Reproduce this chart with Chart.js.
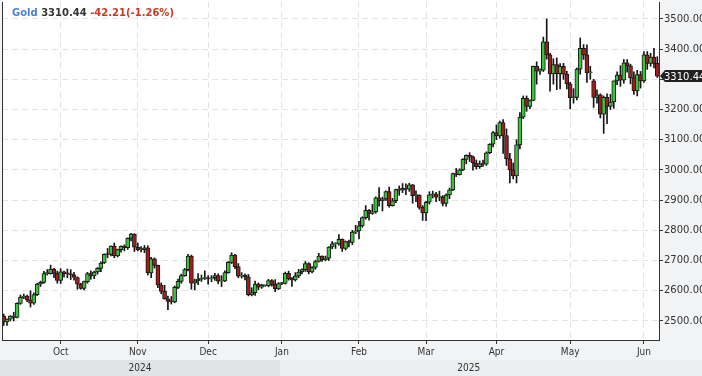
<!DOCTYPE html>
<html>
<head>
<meta charset="utf-8">
<script src="https://cdn.jsdelivr.net/npm/chart.js@4.4.1/dist/chart.umd.min.js"></script>
<style>
html, body { margin: 0; padding: 0; background: #f2f3f5; }
#wrap { position: relative; width: 702px; height: 376px; }
#title { position: absolute; left: 12px; top: 7px; font: bold 10px 'DejaVu Sans', sans-serif; line-height: 12px; color: #333; white-space: pre; }
</style>
</head>
<body>
<div id="wrap">
  <canvas id="myChart" width="702" height="376"></canvas>
  <div id="title"><span style="color:#4c7fd8">Gold</span> <span id="last"></span> <span id="chg" style="color:#c23b22"></span></div>
</div>
<script>
// trading days run Sep 6 2024 .. Jun 6 2025 (every weekday)
const firstDay = '2024-09-06';
const lastDay = '2025-06-06';
const monthNames = ['Jan','Feb','Mar','Apr','May','Jun','Jul','Aug','Sep','Oct','Nov','Dec'];
const years = ['2024', '2025'];
const yTicks = [2500, 2600, 2700, 2800, 2900, 3000, 3100, 3200, 3300, 3400, 3500];

// Sep | Oct | Nov | Dec | Jan | Feb | Mar | Apr | May | Jun
const opens = [
  2516,2497,2506,2516,2512,2558,2578,2582,2570,2559,2587,2622,2628,2657,2657,2672,2658,
  2634,2663,2657,2656,2653,2644,2622,2608,2630,2657,2649,2662,2674,2692,2721,2720,2748,2715,2736,2747,2743,2774,2788,
  2744,2736,2736,2742,2659,2706,2684,2619,2598,2573,2565,2563,2611,2631,2650,2670,2715,2625,2633,2638,2640,
  2643,2639,2643,2650,2632,2633,2660,2694,2718,2680,2648,2652,2646,2586,2594,2622,2612,2617,2617,2634,2621,2606,
  2624,2624,2658,2640,2636,2649,2662,2670,2690,2662,2677,2697,2715,2703,2708,2745,2755,2755,2770,2740,2763,2760,2794,
  2798,2815,2842,2866,2856,2861,2908,2898,2904,2928,2882,2898,2935,2933,2939,2936,2951,2915,2916,2876,
  2858,2893,2918,2920,2910,2910,2889,2917,2934,2988,2984,3000,3035,3048,3043,3023,3011,3020,3019,3057,3085,
  3124,3113,3157,3114,3037,3000,2980,3083,3175,3237,3210,3230,3343,3327,3330,3424,3381,3318,3349,3319,3343,3317,
  3285,3239,3240,3334,3403,3381,3321,3295,3240,3249,3185,3240,3210,3225,3295,3314,3297,3355,3345,3305,3262,3316,
  3295,3381,3353,3374,3352.65
];
const highs = [
  2523,2507,2518,2529,2560,2586,2589,2586,2600,2593,2625,2632,2664,2670,2685,2674,2665,
  2673,2665,2672,2670,2661,2646,2625,2632,2661,2666,2665,2677,2696,2722,2740,2749,2758,2738,2749,2752,2775,2790,2789,
  2758,2746,2750,2749,2711,2709,2685,2626,2618,2582,2581,2616,2639,2655,2674,2721,2718,2639,2657,2652,2666,
  2650,2650,2658,2656,2650,2666,2697,2726,2721,2690,2660,2656,2654,2610,2632,2626,2622,2618,2638,2637,2637,2627,
  2628,2662,2665,2644,2660,2671,2673,2697,2693,2680,2701,2724,2716,2715,2746,2763,2759,2786,2772,2765,2768,2800,2817,
  2830,2845,2882,2869,2886,2911,2942,2910,2931,2943,2906,2937,2947,2955,2954,2956,2952,2931,2918,2882,
  2896,2928,2930,2926,2930,2915,2921,2940,2990,3005,3004,3038,3050,3057,3047,3033,3030,3033,3060,3087,3128,
  3149,3162,3167,3136,3055,3023,3100,3190,3245,3245,3232,3344,3358,3335,3440,3500,3386,3368,3371,3352,3353,3327,
  3290,3269,3337,3437,3415,3414,3343,3300,3265,3252,3245,3252,3250,3295,3325,3345,3366,3365,3350,3325,3330,3326,
  3392,3392,3386,3403,3375
];
const lows = [
  2485,2485,2500,2500,2510,2555,2574,2564,2546,2555,2584,2614,2624,2652,2655,2643,2625,
  2624,2645,2643,2637,2635,2605,2605,2603,2625,2638,2640,2655,2663,2690,2709,2715,2709,2712,2728,2732,2737,2765,2730,
  2732,2729,2726,2652,2643,2675,2610,2590,2572,2537,2556,2560,2607,2625,2648,2666,2605,2603,2620,2631,2637,
  2622,2630,2634,2623,2614,2630,2658,2690,2673,2643,2642,2636,2583,2583,2585,2603,2608,2614,2613,2615,2597,2604,
  2620,2622,2635,2614,2632,2643,2656,2664,2656,2659,2671,2695,2697,2699,2700,2739,2740,2751,2730,2735,2745,2753,2789,
  2772,2810,2837,2834,2853,2857,2880,2864,2899,2877,2880,2892,2916,2925,2918,2929,2890,2895,2870,2833,
  2832,2887,2907,2895,2898,2881,2880,2905,2931,2978,2983,2998,3020,3028,2999,3003,3005,3012,3015,3054,3076,
  3100,3105,3055,3015,2957,2970,2957,3070,3170,3194,3203,3229,3284,3316,3326,3367,3261,3284,3266,3268,3300,3268,
  3202,3221,3232,3317,3366,3290,3300,3207,3221,3172,3121,3153,3200,3204,3282,3277,3287,3324,3285,3250,3245,3271,
  3290,3333,3343,3338,3306
];
const closes = [
  2497,2506,2516,2512,2558,2578,2582,2570,2559,2587,2622,2628,2657,2657,2672,2658,2634,
  2663,2657,2656,2653,2644,2622,2608,2630,2657,2649,2662,2674,2692,2721,2720,2748,2715,2736,2747,2743,2774,2788,2744,
  2736,2736,2742,2659,2706,2684,2619,2598,2573,2565,2563,2611,2631,2650,2670,2715,2625,2633,2638,2640,2643,
  2639,2643,2650,2632,2633,2660,2694,2718,2680,2648,2652,2646,2586,2594,2622,2612,2617,2617,2634,2621,2606,2624,
  2624,2658,2640,2636,2649,2662,2670,2690,2662,2677,2697,2715,2703,2708,2745,2755,2755,2770,2740,2763,2760,2794,2798,
  2815,2842,2866,2856,2861,2908,2898,2904,2928,2882,2898,2935,2933,2939,2936,2951,2915,2916,2876,2858,
  2893,2918,2920,2910,2910,2889,2917,2934,2988,2984,3000,3035,3048,3043,3023,3011,3020,3019,3057,3085,3124,
  3113,3157,3114,3037,3000,2980,3083,3175,3237,3210,3230,3343,3327,3330,3424,3381,3318,3349,3319,3343,3317,3285,
  3239,3240,3334,3403,3381,3321,3325,3240,3249,3185,3240,3210,3225,3295,3314,3297,3355,3345,3305,3262,3316,3295,
  3381,3353,3374,3352.65,3310.44
];

const days = [];
for (let d = new Date(firstDay + 'T00:00:00Z'); d <= new Date(lastDay + 'T00:00:00Z'); d.setUTCDate(d.getUTCDate() + 1)) {
  const wd = d.getUTCDay();
  if (wd !== 0 && wd !== 6) days.push(d.toISOString().slice(0, 10));
}

const upColor = '#3fc03f';
const downColor = '#a11d1d';
const axisFont = "'Liberation Sans Narrow', 'DejaVu Sans Condensed', sans-serif";

const bodies = opens.map((o, i) => [o, closes[i]]);
const wicks = lows.map((l, i) => [l, highs[i]]);
const bodyColors = opens.map((o, i) => closes[i] >= o ? upColor : downColor);

// header text
const n = closes.length;
const change = closes[n - 1] - closes[n - 2];
document.getElementById('last').textContent = closes[n - 1].toFixed(2);
document.getElementById('chg').textContent = change.toFixed(2) + '(' + (change / closes[n - 2] * 100).toFixed(2) + '%)';

const frame = {
  id: 'frame',
  beforeDraw(chart) {
    const { ctx, chartArea: a } = chart;
    ctx.save();
    ctx.fillStyle = '#f2f3f5';
    ctx.fillRect(0, 0, chart.width, chart.height);
    ctx.fillStyle = '#ffffff';
    ctx.fillRect(a.left, 0, a.right - a.left, a.bottom);
    ctx.restore();
  },
  afterDraw(chart) {
    const { ctx, chartArea: a, scales: { x, y } } = chart;
    ctx.save();
    // left edge of the plot
    ctx.strokeStyle = '#333';
    ctx.lineWidth = 1;
    ctx.beginPath();
    ctx.moveTo(a.left + 0.5, a.top);
    ctx.lineTo(a.left + 0.5, a.bottom);
    ctx.stroke();

    // year band
    const yi = days.findIndex(d => d.startsWith(years[1]));
    const half = (x.getPixelForValue(1) - x.getPixelForValue(0)) / 2;
    const split = Math.round(x.getPixelForValue(yi) - half);
    const bandTop = a.bottom + 20;
    ctx.fillStyle = '#e2e3e5';
    ctx.fillRect(0, bandTop, split, chart.height - bandTop);
    ctx.fillStyle = '#ecedef';
    ctx.fillRect(split, bandTop, chart.width - split, chart.height - bandTop);
    ctx.fillStyle = '#333';
    ctx.font = '10px ' + axisFont;
    ctx.textAlign = 'center';
    ctx.textBaseline = 'middle';
    ctx.fillText(years[0], split / 2, bandTop + 8);
    ctx.fillText(years[1], (split + x.getPixelForValue(days.length - 1)) / 2, bandTop + 8);

    // last price tag
    const py = Math.round(y.getPixelForValue(closes[n - 1]));
    const px = a.right + 1;
    ctx.fillStyle = '#222';
    ctx.beginPath();
    ctx.moveTo(px, py);
    ctx.lineTo(px + 5, py - 6);
    ctx.lineTo(chart.width, py - 6);
    ctx.lineTo(chart.width, py + 6);
    ctx.lineTo(px + 5, py + 6);
    ctx.closePath();
    ctx.fill();
    ctx.fillStyle = '#fff';
    ctx.font = "10px 'DejaVu Sans', sans-serif";
    ctx.textAlign = 'left';
    ctx.fillText(closes[n - 1].toFixed(2), px + 4, py + 1);
    ctx.restore();
  }
};

const ctx = document.getElementById('myChart').getContext('2d');
new Chart(ctx, {
  type: 'bar',
  data: {
    labels: days,
    datasets: [
      {
        label: 'body',
        data: bodies,
        backgroundColor: bodyColors,
        borderColor: '#161616',
        borderWidth: 1,
        borderSkipped: false,
        barThickness: 4,
        minBarLength: 1,
        grouped: false
      },
      {
        label: 'wick',
        data: wicks,
        backgroundColor: '#161616',
        borderWidth: 0,
        barThickness: 1,
        grouped: false
      }
    ]
  },
  options: {
    responsive: false,
    animation: false,
    events: [],
    layout: { padding: { left: 2, top: 2, right: 0, bottom: 16 } },
    plugins: { legend: { display: false }, tooltip: { enabled: false } },
    scales: {
      x: {
        type: 'category',
        offset: true,
        afterFit: s => { s.height = 20; s.paddingLeft = 0; s.paddingRight = 0; },
        grid: { offset: false, color: '#e4e4e4', drawTicks: true, tickLength: 4, tickColor: '#333', tickBorderDash: [] },
        border: { color: '#333', width: 1, dash: [6, 4] },
        ticks: {
          autoSkip: false,
          maxRotation: 0,
          minRotation: 0,
          padding: 2,
          color: '#333',
          font: { family: axisFont, size: 10 },
          callback: function (value, index) {
            if (index === 0) return null;
            const m = days[index].slice(5, 7);
            if (m === days[index - 1].slice(5, 7)) return null;
            return monthNames[parseInt(m, 10) - 1];
          }
        }
      },
      y: {
        type: 'linear',
        position: 'right',
        min: 2437,
        max: 3556,
        afterFit: s => { s.width = 43; s.paddingTop = 0; s.paddingBottom = 0; },
        afterBuildTicks: s => { s.ticks = yTicks.map(v => ({ value: v })); },
        grid: { color: '#e4e4e4', drawTicks: true, tickLength: 4, tickColor: '#333', tickBorderDash: [] },
        border: { color: '#333', width: 1, dash: [6, 4] },
        ticks: {
          padding: 1,
          color: '#333',
          font: { family: "'DejaVu Sans', sans-serif", size: 10 },
          callback: v => Number(v).toFixed(2)
        }
      }
    }
  },
  plugins: [frame]
});
</script>
</body>
</html>
